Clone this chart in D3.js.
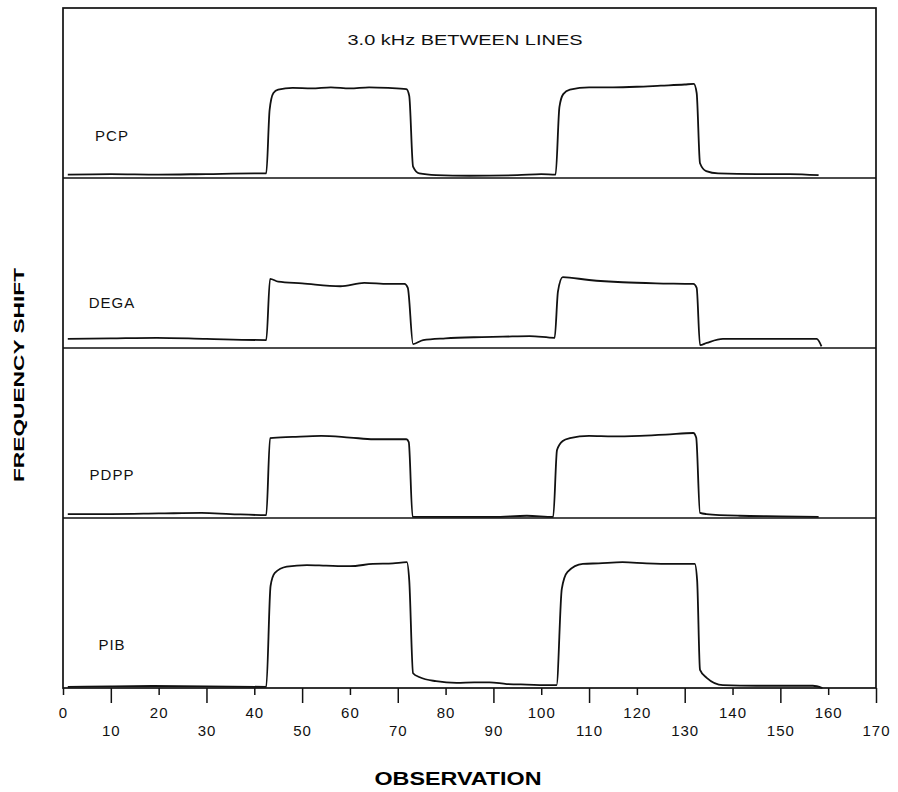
<!DOCTYPE html>
<html>
<head>
<meta charset="utf-8">
<script src="https://cdn.jsdelivr.net/npm/d3@7"></script>
<style>
  body { margin: 0; background: #fff; }
  svg { display: block; }
</style>
</head>
<body>
<div id="chart-area"></div>
<script>
// traces: [observation, kHz above own baseline]
var pcp = [[1,0.06],[10,0.07],[20,0.06],[30,0.07],[40,0.08],[42.5,0.08],[43.2,1.2],[44,1.5],[45,1.56],[48,1.59],[52,1.58],[56,1.6],[60,1.58],[64,1.6],[68,1.59],[71.8,1.57],[72.4,1.45],[73.2,0.2],[74.5,0.08],[78,0.05],[85,0.04],[95,0.05],[100,0.07],[103,0.06],[103.8,1.25],[104.6,1.48],[106,1.56],[110,1.6],[115,1.6],[120,1.61],[125,1.63],[130,1.65],[131.9,1.66],[132.5,1.5],[133.2,0.26],[134.5,0.12],[137,0.08],[145,0.07],[152,0.07],[158,0.05]];
var dega = [[1,0.16],[10,0.17],[19.6,0.18],[30,0.16],[42.5,0.14],[43.3,1.22],[45,1.17],[50,1.14],[58,1.09],[63,1.15],[68,1.13],[71.4,1.13],[72.1,1.06],[73.2,0.07],[75.3,0.14],[80,0.17],[86,0.19],[92,0.2],[97.6,0.21],[102.8,0.18],[103.5,1.0],[104.5,1.25],[110,1.2],[117,1.16],[124,1.14],[131.8,1.13],[132.5,1.06],[133.2,0.05],[134.6,0.09],[138,0.16],[148,0.16],[157.6,0.16],[158.6,0.03]];
var pdpp = [[1,0.07],[10,0.07],[20,0.08],[29,0.09],[35,0.07],[42.5,0.05],[43.3,1.41],[48,1.43],[54,1.45],[60,1.42],[65,1.39],[71.8,1.39],[72.3,1.34],[73.1,0.02],[80,0.02],[90,0.02],[97,0.04],[102.5,0.02],[103.3,1.2],[104.5,1.36],[106,1.41],[110,1.45],[115,1.44],[120.6,1.45],[126,1.47],[131.8,1.5],[132.4,1.42],[133.2,0.09],[134.5,0.07],[141.5,0.04],[150,0.03],[158,0.02]];
var pib = [[1,0.02],[10,0.03],[18.8,0.035],[30,0.03],[42.5,0.02],[43.4,1.8],[44.3,2.03],[46.8,2.14],[51,2.17],[55,2.16],[60,2.15],[64.8,2.19],[69,2.2],[71.9,2.22],[72.4,1.9],[73.2,0.26],[74.6,0.19],[78,0.12],[82.3,0.09],[86,0.1],[89.2,0.1],[92.8,0.07],[97,0.06],[102.4,0.05],[103.2,0.05],[104.3,1.75],[105.5,2.05],[108.7,2.19],[112,2.2],[117,2.22],[122,2.2],[127.5,2.19],[132.1,2.19],[132.6,1.9],[133.2,0.32],[134.6,0.18],[138,0.05],[145,0.04],[151,0.04],[156.8,0.04],[158.8,0]];

var series = [pcp, dega, pdpp, pib];
var names = ["PCP", "DEGA", "PDPP", "PIB"];
var offsets = [9, 6, 3, 0];           // 3.0 kHz between lines
var labelAt = [0.65, 0.7, 0.67, 0.67]; // label baseline in kHz above own baseline
var evenTicks = d3.range(0, 170, 20);
var oddTicks = d3.range(10, 171, 20);

var width = 898, height = 792;

var x = d3.scaleLinear().domain([0, 170]).range([63, 876]);
var y = d3.scaleLinear().domain([0, 12]).range([688, 8]);

var svg = d3.select("#chart-area")
  .append("svg")
    .attr("width", width)
    .attr("height", height);

// frame
svg.append("rect")
  .attr("x", x(0))
  .attr("y", y(12))
  .attr("width", x(170) - x(0))
  .attr("height", y(0) - y(12))
  .attr("fill", "none")
  .attr("stroke", "#111")
  .attr("stroke-width", 1.7);

// baselines between panels
svg.selectAll(".base")
  .data(offsets.slice(0, 3))
  .enter().append("line")
    .attr("class", "base")
    .attr("x1", x(0)).attr("x2", x(170))
    .attr("y1", d => y(d)).attr("y2", d => y(d))
    .attr("stroke", "#111")
    .attr("stroke-width", 1.7);

var line = d3.line()
  .x(d => x(d[0]))
  .y(d => y(d[1]))
  .curve(d3.curveMonotoneX);

series.forEach((s, i) => {
  svg.append("path")
    .datum(s.map(p => [p[0], p[1] + offsets[i]]))
    .attr("d", line)
    .attr("fill", "none")
    .attr("stroke", "#111")
    .attr("stroke-width", 1.8)
    .attr("stroke-linejoin", "round");

  svg.append("text")
    .attr("x", 112)
    .attr("y", y(offsets[i] + labelAt[i]))
    .attr("text-anchor", "middle")
    .attr("font-family", "Liberation Sans, Arial, sans-serif")
    .attr("font-size", "15px")
    .attr("letter-spacing", "1px")
    .attr("fill", "#111")
    .text(names[i]);
});

// bottom axis, labels alternate in two rows
var evenAxis = d3.axisBottom(x).tickValues(evenTicks).tickSize(7).tickPadding(12);
var oddAxis = d3.axisBottom(x).tickValues(oddTicks).tickSize(15).tickPadding(22);

[evenAxis, oddAxis].forEach(a => {
  var g = svg.append("g")
    .attr("transform", "translate(0," + y(0) + ")")
    .call(a);
  g.select(".domain").remove();
  g.selectAll(".tick line").attr("stroke", "#111").attr("stroke-width", 1.5);
  g.selectAll(".tick text")
    .attr("font-family", "Liberation Sans, Arial, sans-serif")
    .attr("font-size", "15px")
    .attr("letter-spacing", "1px")
    .attr("fill", "#111");
});

svg.append("text")
  .attr("x", 465)
  .attr("y", 45)
  .attr("text-anchor", "middle")
  .attr("font-family", "Liberation Sans, Arial, sans-serif")
  .attr("font-size", "14px")
  .attr("textLength", 235)
  .attr("lengthAdjust", "spacingAndGlyphs")
  .attr("fill", "#111")
  .text("3.0 kHz BETWEEN LINES");

svg.append("text")
  .attr("x", 458)
  .attr("y", 785)
  .attr("text-anchor", "middle")
  .attr("font-family", "Liberation Sans, Arial, sans-serif")
  .attr("font-weight", "bold")
  .attr("font-size", "19px")
  .attr("textLength", 167)
  .attr("lengthAdjust", "spacingAndGlyphs")
  .attr("fill", "#000")
  .text("OBSERVATION");

svg.append("text")
  .attr("transform", "translate(24,375) rotate(-90)")
  .attr("text-anchor", "middle")
  .attr("font-family", "Liberation Sans, Arial, sans-serif")
  .attr("font-weight", "bold")
  .attr("font-size", "15px")
  .attr("textLength", 214)
  .attr("lengthAdjust", "spacingAndGlyphs")
  .attr("fill", "#000")
  .text("FREQUENCY SHIFT");
</script>
</body>
</html>
